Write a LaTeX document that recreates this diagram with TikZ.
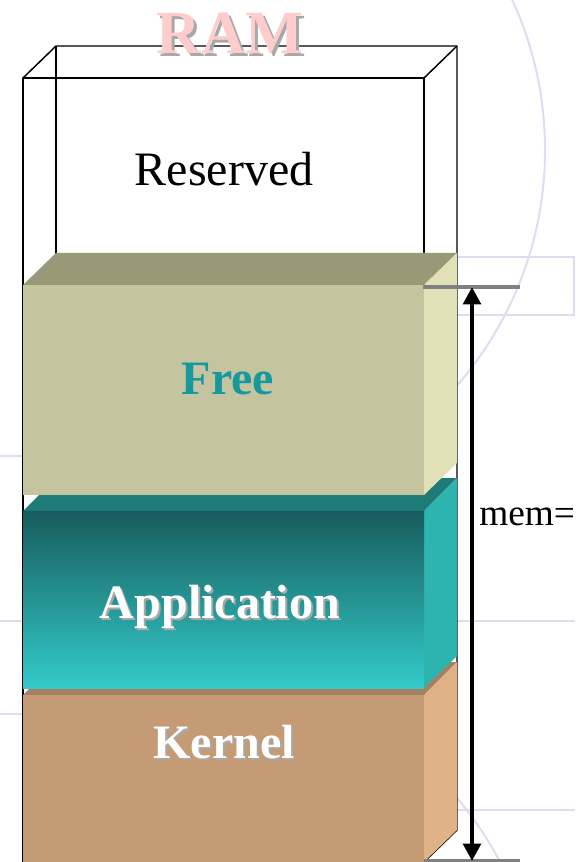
\documentclass[tikz,border=0pt]{standalone}
\usepackage{fontspec}
\setmainfont{Liberation Serif}
\usetikzlibrary{arrows.meta}

\definecolor{lavender}{HTML}{DEDCF0}
\definecolor{ramtext}{HTML}{FFCCCC}
\definecolor{shadowgray}{HTML}{A8A8A8}
\definecolor{freetop}{HTML}{999977}
\definecolor{freefront}{HTML}{C4C49E}
\definecolor{freeside}{HTML}{E2E0B6}
\definecolor{freetext}{HTML}{159999}
\definecolor{apptop}{HTML}{1E7B78}
\definecolor{appdark}{HTML}{185C5C}
\definecolor{appmid}{HTML}{27A09E}
\definecolor{applight}{HTML}{33CACA}
\definecolor{appside}{HTML}{2DB3B0}
\definecolor{kerntop}{HTML}{A38262}
\definecolor{kernfront}{HTML}{C49B75}
\definecolor{kernside}{HTML}{E0B387}
\definecolor{tickgray}{HTML}{808080}

\begin{document}
\begin{tikzpicture}[x=0.75pt,y=-0.75pt]
        \tikzstyle{bgline}=[draw=lavender,line width=1.5pt]
        \tikzstyle{wire}=[draw=black,line width=1.1pt,line join=round]
        \tikzstyle{tick}=[draw=tickgray,line width=3pt]
        \tikzstyle{blocklabel}=[anchor=base,inner sep=0pt,font=\bfseries\fontsize{36}{36}\selectfont]
        \tikzstyle{memarrow}=[line width=3.5pt,{Triangle[width=13pt,length=13pt]}-{Triangle[width=13pt,length=13pt]}]

        \useasboundingbox (0,0) rectangle (575,862);

        % background of the slide
        \begin{scope}
            \clip (400,0) rectangle (575,862);
            \draw[bgline] (186,150) circle (359);
            \draw[bgline] (181,1029) circle (360);
        \end{scope}
        \draw[bgline] (300,257) rectangle (574,315);
        \draw[bgline] (0,456) -- (120,456);
        \draw[bgline] (0,621) -- (575,621);
        \draw[bgline] (0,714) -- (120,714);
        \draw[bgline] (300,810) -- (575,810);

        % wire box (reserved)
        \draw[wire] (23,78) rectangle (424,862);
        \draw[wire] (56,46) -- (457,46) -- (457,830) -- (424,862);
        \draw[wire] (56,46) -- (56,300);
        \draw[wire] (23,78) -- (56,46);
        \draw[wire] (424,78) -- (457,46);

        % kernel
        \fill[kerntop] (23,695) -- (56,662) -- (457,662) -- (424,695) -- cycle;
        \fill[kernside] (424,695) -- (457,662) -- (457,830) -- (424,862) -- cycle;
        \fill[kernfront] (23,695) rectangle (424,862);

        % application
        \fill[apptop] (23,511) -- (56,478) -- (457,478) -- (424,511) -- cycle;
        \fill[appside] (424,511) -- (457,478) -- (457,656) -- (424,688) -- cycle;
        \shade[top color=appdark,middle color=appmid,bottom color=applight] (23,511) rectangle (424,688);

        % free
        \fill[freetop] (23,285) -- (56,253) -- (457,253) -- (424,285) -- cycle;
        \fill[freeside] (424,285) -- (457,253) -- (457,463) -- (424,495) -- cycle;
        \fill[freefront] (23,285) rectangle (424,495);

        % labels
        \node[anchor=base,inner sep=0pt,text=shadowgray,font=\bfseries\fontsize{46}{46}\selectfont] (ramshd) at (233,57) {RAM};
        \node[anchor=base,inner sep=0pt,text=ramtext,font=\bfseries\fontsize{46}{46}\selectfont] (ram) at (230,54) {RAM};
        \node[anchor=base,inner sep=0pt,font=\fontsize{36}{36}\selectfont] (reserved) at (224,186) {Reserved};

        \node[blocklabel,text=shadowgray!70] (freeshd) at (229,395) {Free};
        \node[blocklabel,text=freetext] (free) at (228,394) {Free};
        \node[blocklabel,text=shadowgray] (appshd) at (222,620) {Application};
        \node[blocklabel,text=white] (app) at (220,618) {Application};
        \node[blocklabel,text=shadowgray] (kernshd) at (226,760) {Kernel};
        \node[blocklabel,text=white] (kernel) at (224,758) {Kernel};

        % memory size
        \coordinate (tickTL) at (423,287);
        \coordinate (tickTR) at (520,287);
        \coordinate (tickBL) at (424,861);
        \coordinate (tickBR) at (520,861);
        \coordinate (memtop) at (472,287);
        \coordinate (membot) at (472,861);
        \draw[tick] (tickTL) -- (tickTR);
        \draw[tick] (tickBL) -- (tickBR);
        \draw[memarrow] (memtop) -- (membot);
        \node[anchor=base west,inner sep=0pt,font=\fontsize{28}{28}\selectfont] (mem) at (479,525) {mem=};

    \end{tikzpicture}
\end{document}
